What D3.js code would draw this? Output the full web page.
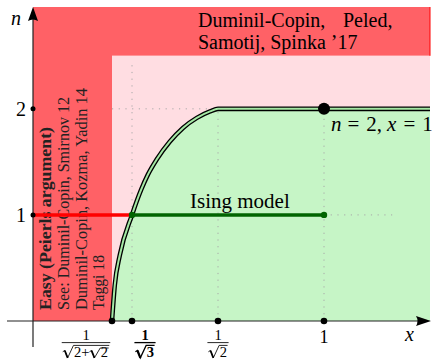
<!DOCTYPE html>
<html>
<head>
<meta charset="utf-8">
<script src="https://cdn.jsdelivr.net/npm/d3@7"></script>
<style>
  html, body { margin: 0; padding: 0; background: #fff; }
  svg { display: block; }
</style>
</head>
<body>
<svg id="chart" width="439" height="363"></svg>
<script>
// values (x is not drawn to scale in the original, so the
// x scale is piecewise linear through the marked values)
const xTickValues = [0.541, 0.577, 0.707, 1];
const xTickLabels = ['1/√(2+√2)', '1/√3', '1/√2', '1'];
const xTickBold = [false, true, false, false];
const yTickValues = [1, 2];
const xMax = 1.364;
const nMax = 2.96;

// boundary of the green region (n as a function of x)
const boundaryX = [0.541, 0.546, 0.555, 0.577, 0.591, 0.601, 0.614, 0.634, 0.654, 0.675, 0.695, 0.707, 1.364];
const boundaryN = [0, 0.34, 0.62, 1, 1.24, 1.38, 1.52, 1.69, 1.82, 1.915, 1.976, 2, 2];

const easyX = 0.541;   // right edge of the "easy" column
const dcpssN = 2.5;    // lower edge of the top band
const peierlsSegment = [0, 0.577];
const isingSegment = [0.577, 1];
const segmentN = 1;
const markedPoint = [1, 2];

const gridV = [[0.577, 0, 2.45], [0.707, 0, 2], [1, 0, 2]];
const gridH = [[2, 0.541, 0.707], [1, 1, 1.24]];

const titleWords = [['Duminil-Copin,', 'Peled,'], ['Samotij, Spinka \u201917']];
const easyLines = ['Easy (Peierls argument)', 'See: Duminil-Copin, Smirnov 12', 'Duminil-Copin, Kozma, Yadin 14', 'Taggi 18'];
const isingLabel = 'Ising model';

// layout
const FONT = '"Liberation Serif", "Times New Roman", "DejaVu Serif", serif';
const x0 = 33, xEnd = 430, yBase = 321, yTop = 7;
const xLabelShift = [-26, 13, 0, 0];
const easyBase = [51, 69, 87, 104];
const easyLength = [183, 213, 222, 55];

const svg = d3.select('#chart').attr('font-family', FONT);

const x = d3.scaleLinear()
  .domain([0, ...xTickValues, xMax])
  .range([x0, 112, 132, 218, 324, xEnd]);
const y = d3.scaleLinear().domain([0, nMax]).range([yBase, yTop]);

const RED = '#ff6166', PINK = '#ffdde2', GREEN = '#c6f5c6';

// regions
svg.append('rect')
  .attr('x', x(0)).attr('y', y(nMax))
  .attr('width', x(xMax) - x(0)).attr('height', y(dcpssN) - y(nMax))
  .attr('fill', RED);
svg.append('rect')
  .attr('x', x(0)).attr('y', y(nMax))
  .attr('width', x(easyX) - x(0)).attr('height', y(0) - y(nMax))
  .attr('fill', RED);
svg.append('rect')
  .attr('x', x(easyX)).attr('y', y(dcpssN))
  .attr('width', x(xMax) - x(easyX)).attr('height', y(0) - y(dcpssN))
  .attr('fill', PINK);
svg.append('line')
  .attr('x1', x(xMax)).attr('x2', x(xMax))
  .attr('y1', y(nMax)).attr('y2', y(dcpssN))
  .attr('stroke', '#ff0000').attr('stroke-width', 1);

const boundary = boundaryX.map((v, i) => ({ x: v, n: boundaryN[i] }));
const smooth = d3.curveMonotoneX;

svg.append('path')
  .datum(boundary)
  .attr('fill', GREEN)
  .attr('d', d3.area().curve(smooth)
    .x(d => x(d.x)).y0(y(0)).y1(d => y(d.n)));

// dotted guides
const grid = svg.append('g')
  .attr('stroke', '#a8a8a8').attr('stroke-width', 1)
  .attr('stroke-dasharray', '1.2,5.5');
gridV.forEach(d => grid.append('line')
  .attr('x1', x(d[0])).attr('x2', x(d[0]))
  .attr('y1', y(d[1])).attr('y2', y(d[2])));
gridH.forEach(d => grid.append('line')
  .attr('y1', y(d[0])).attr('y2', y(d[0]))
  .attr('x1', x(d[1])).attr('x2', x(d[2])));

// double-stroked boundary
const line = d3.line().curve(smooth).x(d => x(d.x)).y(d => y(d.n));
svg.append('path').datum(boundary)
  .attr('fill', 'none').attr('stroke', '#000').attr('stroke-width', 4.6)
  .attr('d', line);
svg.append('path').datum(boundary)
  .attr('fill', 'none').attr('stroke', '#a4e8a4').attr('stroke-width', 2)
  .attr('d', line);

// rotated text in the easy column
const easy = svg.append('g').attr('fill', '#222');
easyLines.forEach((t, i) => {
  easy.append('text')
    .attr('transform', `translate(${easyBase[i]},310) rotate(-90)`)
    .attr('font-size', 16)
    .attr('font-weight', i === 0 ? 'bold' : null)
    .attr('textLength', easyLength[i])
    .attr('lengthAdjust', 'spacingAndGlyphs')
    .text(t);
});

// n = 1 segments
svg.append('line')
  .attr('x1', x(peierlsSegment[0])).attr('x2', x(peierlsSegment[1]))
  .attr('y1', y(segmentN)).attr('y2', y(segmentN))
  .attr('stroke', '#ff0000').attr('stroke-width', 3.5);
svg.append('line')
  .attr('x1', x(isingSegment[0])).attr('x2', x(isingSegment[1]))
  .attr('y1', y(segmentN)).attr('y2', y(segmentN))
  .attr('stroke', '#006400').attr('stroke-width', 3.5);
svg.selectAll('circle.ising')
  .data(isingSegment).join('circle').attr('class', 'ising')
  .attr('cx', d => x(d)).attr('cy', y(segmentN)).attr('r', 3.2)
  .attr('fill', '#006400');

// axes
svg.append('line')
  .attr('x1', 7).attr('x2', xEnd - 10).attr('y1', y(0)).attr('y2', y(0))
  .attr('stroke', '#222').attr('stroke-width', 1.2);
svg.append('line')
  .attr('x1', x(0)).attr('x2', x(0)).attr('y1', 347).attr('y2', yTop + 10)
  .attr('stroke', '#222').attr('stroke-width', 1.2);
svg.append('path')
  .attr('d', `M${xEnd + 1},${y(0)} L${xEnd - 14},${y(0) - 5} Q${xEnd - 11},${y(0)} ${xEnd - 14},${y(0) + 5} Z`)
  .attr('fill', '#000');
svg.append('path')
  .attr('d', `M${x(0)},${yTop} L${x(0) - 5},${yTop + 14} Q${x(0)},${yTop + 11} ${x(0) + 5},${yTop + 14} Z`)
  .attr('fill', '#000');

svg.append('text').attr('x', 11).attr('y', 25)
  .attr('font-size', 20).attr('font-style', 'italic').text('n');
svg.append('text').attr('x', 405).attr('y', 341)
  .attr('font-size', 20).attr('font-style', 'italic').text('x');

const yAxis = svg.append('g')
  .attr('transform', `translate(${x(0)},0)`)
  .call(d3.axisLeft(y).tickValues(yTickValues).tickSize(0).tickPadding(7).tickFormat(d3.format('d')))
  .attr('font-family', FONT).attr('font-size', 20);
yAxis.select('.domain').remove();
yAxis.selectAll('text').attr('fill', '#000');

svg.selectAll('circle.ytick')
  .data(yTickValues).join('circle').attr('class', 'ytick')
  .attr('cx', x(0)).attr('cy', d => y(d)).attr('r', 2.5).attr('fill', '#000');
svg.selectAll('circle.xtick')
  .data(xTickValues).join('circle').attr('class', 'xtick')
  .attr('cx', d => x(d)).attr('cy', y(0)).attr('r', 3.3).attr('fill', '#000');

// x tick labels: fractions with drawn radical signs
function drawRadical(g, px, base, size, weight, radicand, depth) {
  const top = base - size * 0.8 + depth * 2.6;
  const sw = weight === 'bold' ? 1.3 : 0.85;
  const signW = size * 0.74;
  const start = px + signW;
  let cx = start + 0.6;
  const k = radicand.indexOf('√');
  const head = k < 0 ? radicand : radicand.slice(0, k);
  if (head) {
    const t = g.append('text').attr('x', cx).attr('y', base)
      .attr('font-size', size).attr('font-weight', weight).text(head);
    cx += t.node().getComputedTextLength();
  }
  if (k >= 0) {
    cx = drawRadical(g, cx, base, size, weight, radicand.slice(k + 1), depth + 1);
  }
  g.append('path')
    .attr('d', `M${px},${base - size * 0.36} L${px + size * 0.14},${base - size * 0.45}`
      + ` L${px + size * 0.34},${base + size * 0.06} L${start},${top} L${cx + 0.6},${top}`)
    .attr('fill', 'none').attr('stroke', '#000').attr('stroke-width', sw)
    .attr('stroke-linejoin', 'miter');
  g.append('path')
    .attr('d', `M${px + size * 0.14},${base - size * 0.45} L${px + size * 0.34},${base + size * 0.06}`)
    .attr('stroke', '#000').attr('stroke-width', sw + 0.9);
  return cx + 0.6;
}

xTickValues.forEach((v, i) => {
  const label = xTickLabels[i];
  const cx = x(v) + xLabelShift[i];
  const weight = xTickBold[i] ? 'bold' : 'normal';
  if (!label.includes('/')) {
    svg.append('text').attr('x', cx).attr('y', 343)
      .attr('text-anchor', 'middle').attr('font-size', 18).text(label);
    return;
  }
  const [num, den] = label.split('/');
  const g = svg.append('g');
  g.append('text').attr('x', cx).attr('y', 339.5)
    .attr('text-anchor', 'middle').attr('font-size', 14.5).attr('font-weight', weight).text(num);
  const dg = g.append('g');
  const rad = den.replace(/^√/, '').replace(/[()]/g, '');
  const w = drawRadical(dg, 0, 357, 14.5, weight, rad, 0);
  dg.attr('transform', `translate(${cx - w / 2},0)`);
  g.append('line').attr('x1', cx - w / 2 - 1).attr('x2', cx + w / 2 + 1)
    .attr('y1', 342.6).attr('y2', 342.6)
    .attr('stroke', '#000').attr('stroke-width', weight === 'bold' ? 1.3 : 0.85);
});

// marked point
svg.append('circle')
  .attr('cx', x(markedPoint[0])).attr('cy', y(markedPoint[1])).attr('r', 6)
  .attr('fill', '#000');
const mp = svg.append('text').attr('x', x(markedPoint[0]) + 7).attr('y', 130.5).attr('font-size', 21);
mp.append('tspan').attr('font-style', 'italic').text('n');
mp.append('tspan').attr('dx', 6).text('=');
mp.append('tspan').attr('dx', 7).text(`${markedPoint[1]},`);
mp.append('tspan').attr('dx', 5).attr('font-style', 'italic').text('x');
mp.append('tspan').attr('dx', 7).text('=');
mp.append('tspan').attr('dx', 7).text(markedPoint[0]);

// labels
svg.append('text').attr('x', 190).attr('y', 208).attr('font-size', 21).text(isingLabel);
const titleX = [[198, 343], [198]];
titleWords.forEach((words, i) => {
  words.forEach((t, j) => {
    svg.append('text').attr('x', titleX[i][j]).attr('y', 27 + i * 22)
      .attr('font-size', 20).text(t);
  });
});
</script>
</body>
</html>
